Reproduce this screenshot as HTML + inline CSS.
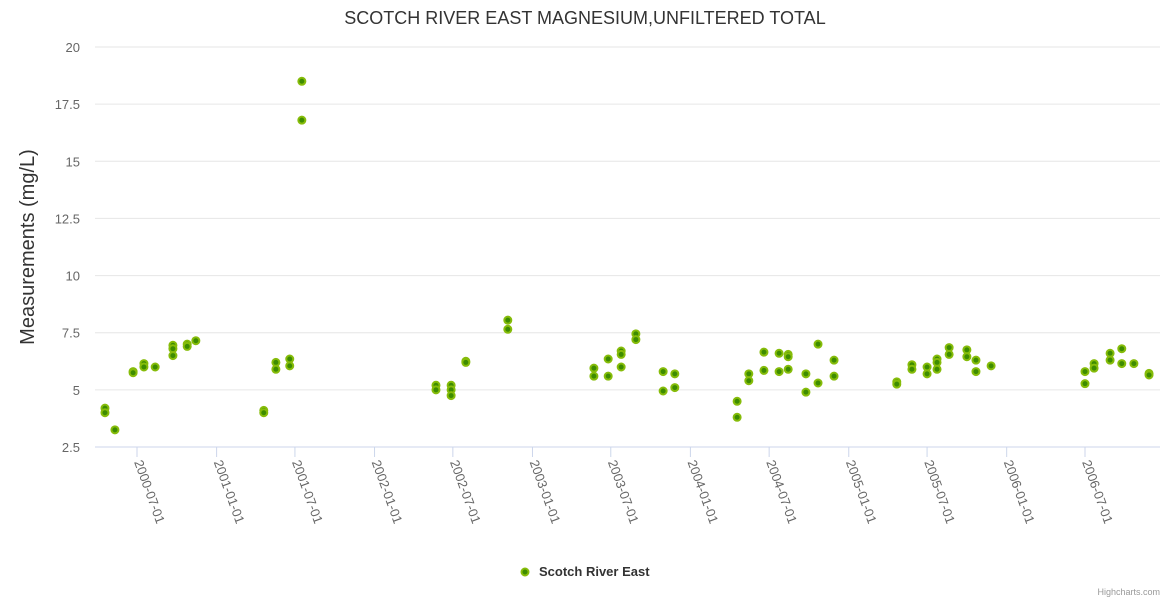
<!DOCTYPE html>
<html><head><meta charset="utf-8"><style>
body{margin:0;background:#fff;}
svg{display:block;font-family:"Liberation Sans","DejaVu Sans",sans-serif;}
</style></head><body>
<svg id="chart" width="1170" height="600">
<text x="585" y="24" text-anchor="middle" font-size="18" fill="#333">SCOTCH RIVER EAST MAGNESIUM,UNFILTERED TOTAL</text>
<text transform="translate(34,247) rotate(-90)" text-anchor="middle" font-size="20" fill="#333">Measurements (mg/L)</text>
<g id="grid"></g><g id="xaxis"></g><g id="pts"></g>
<g>
<circle cx="525" cy="572" r="3.5" fill="#3d8c00" stroke="#86bc0a" stroke-width="2"/>
<text x="539" y="576" font-size="13" font-weight="bold" fill="#333">Scotch River East</text>
</g>
<text x="1160" y="595" text-anchor="end" font-size="9" fill="#999">Highcharts.com</text>
</svg>
<script>
const dates=["2000-04-18","2000-04-18","2000-05-11","2000-06-22","2000-06-22","2000-07-17","2000-07-17","2000-08-12","2000-09-22","2000-09-22","2000-09-22","2000-10-25","2000-10-25","2000-11-14","2001-04-20","2001-04-20","2001-05-18","2001-05-18","2001-06-19","2001-06-19","2001-07-17","2001-07-17","2002-05-23","2002-05-23","2002-06-27","2002-06-27","2002-06-27","2002-07-31","2002-07-31","2002-11-05","2002-11-05","2003-05-23","2003-05-23","2003-06-25","2003-06-25","2003-07-25","2003-07-25","2003-07-25","2003-08-28","2003-08-28","2003-10-30","2003-10-30","2003-11-26","2003-11-26","2004-04-18","2004-04-18","2004-05-15","2004-05-15","2004-06-19","2004-06-19","2004-07-24","2004-07-24","2004-08-14","2004-08-14","2004-08-14","2004-09-24","2004-09-24","2004-10-22","2004-10-22","2004-11-28","2004-11-28","2005-04-22","2005-04-22","2005-05-27","2005-05-27","2005-07-01","2005-07-01","2005-07-24","2005-07-24","2005-07-24","2005-08-21","2005-08-21","2005-10-01","2005-10-01","2005-10-22","2005-10-22","2005-11-26","2006-07-01","2006-07-01","2006-07-22","2006-07-22","2006-08-28","2006-08-28","2006-09-24","2006-09-24","2006-10-22","2006-11-26","2006-11-26"];
const values=[4.2,4.0,3.25,5.8,5.75,6.15,6.0,6.0,6.95,6.8,6.5,7.0,6.9,7.15,4.1,4.0,6.2,5.9,6.35,6.05,18.5,16.8,5.2,5.0,5.2,5.0,4.75,6.25,6.2,8.05,7.65,5.95,5.6,6.35,5.6,6.7,6.55,6.0,7.45,7.2,5.8,4.95,5.7,5.1,4.5,3.8,5.7,5.4,6.65,5.85,6.6,5.8,6.55,6.45,5.9,5.7,4.9,7.0,5.3,6.3,5.6,5.35,5.25,6.1,5.9,6.0,5.7,6.35,6.2,5.9,6.85,6.55,6.75,6.45,6.3,5.8,6.05,5.8,5.27,6.15,5.95,6.6,6.3,6.8,6.15,6.15,5.72,5.65];
const yTicks=[2.5,5,7.5,10,12.5,15,17.5,20];
const xTicks=["2000-07-01","2001-01-01","2001-07-01","2002-01-01","2002-07-01","2003-01-01","2003-07-01","2004-01-01","2004-07-01","2005-01-01","2005-07-01","2006-01-01","2006-07-01"];
const NS="http://www.w3.org/2000/svg";
const t0=Date.UTC(2000,6,1), t1=Date.UTC(2006,6,1);
function ms(s){const p=s.split('-');return Date.UTC(+p[0],p[1]-1,+p[2]);}
function xs(s){return 137+(ms(s)-t0)/(t1-t0)*948;}
function ys(v){return 447-(v-2.5)/17.5*400;}
function mk(tag,at,parent){const e=document.createElementNS(NS,tag);for(const k in at)e.setAttribute(k,at[k]);parent.appendChild(e);return e;}
const grid=document.getElementById('grid'),xa=document.getElementById('xaxis'),pts=document.getElementById('pts');
yTicks.forEach(v=>{
 const l=mk('line',{x1:95,x2:1160,y1:ys(v),y2:ys(v),stroke:v===2.5?'#ccd6eb':'#e6e6e6','stroke-width':1},grid);
 
 
 const t=mk('text',{x:80,y:ys(v)+5,'text-anchor':'end','font-size':13,fill:'#666'},grid);
 t.textContent=v;
 
 
});
xTicks.forEach(s=>{
 const x=xs(s);
 const l=mk('line',{x1:x,x2:x,y1:447,y2:457,stroke:'#ccd6eb'},xa);
 
 
 const t=mk('text',{transform:`translate(${x-3},${462}) rotate(70)`,'font-size':13,fill:'#666'},xa);
 t.textContent=s;
 
 
});
dates.forEach((d,i)=>{
 const c=mk('circle',{cx:xs(d),cy:ys(values[i]),r:3.5,fill:'#3d8c00',stroke:'#86bc0a','stroke-width':2},pts);
 
 
});
</script>
</body></html>
